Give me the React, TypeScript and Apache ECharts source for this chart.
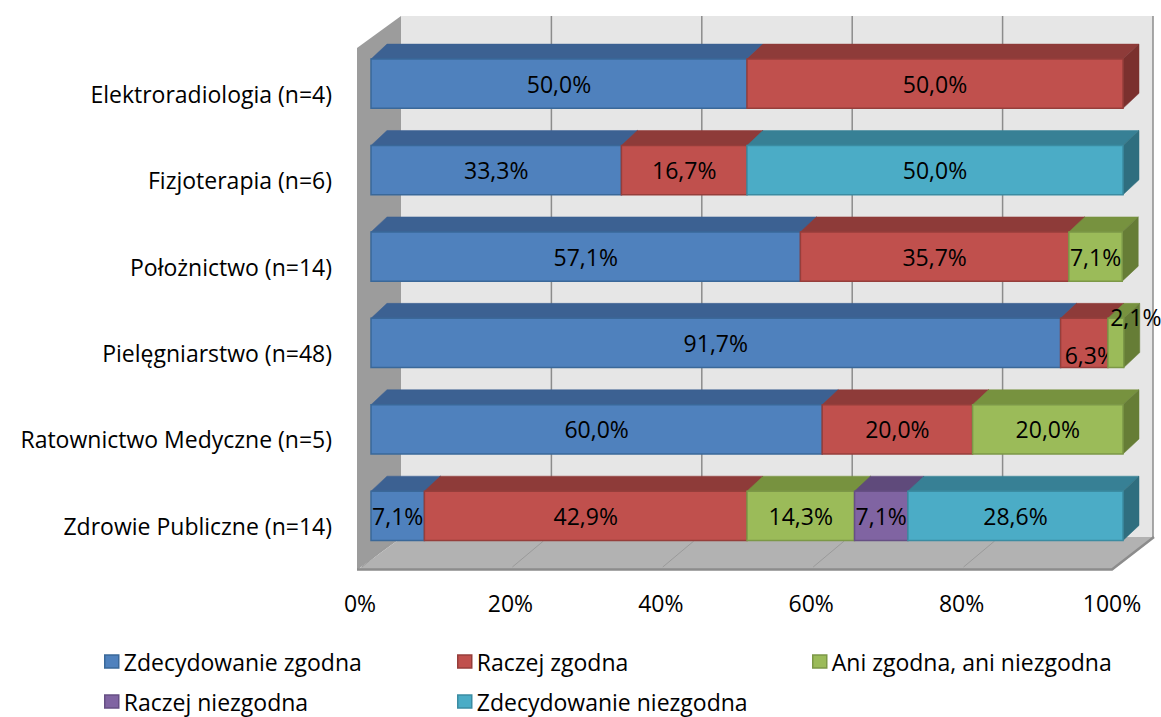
import React, { useEffect, useRef } from "react";
import * as echarts from "echarts";

const CATEGORIES = [
  "Elektroradiologia (n=4)",
  "Fizjoterapia (n=6)",
  "Położnictwo (n=14)",
  "Pielęgniarstwo (n=48)",
  "Ratownictwo Medyczne (n=5)",
  "Zdrowie Publiczne (n=14)",
];

const SERIES_NAMES = [
  "Zdecydowanie zgodna",
  "Raczej zgodna",
  "Ani zgodna, ani niezgodna",
  "Raczej niezgodna",
  "Zdecydowanie niezgodna",
];

const ZDECYDOWANIE_ZGODNA = [50.0, 33.3, 57.1, 91.7, 60.0, 7.1];
const RACZEJ_ZGODNA = [50.0, 16.7, 35.7, 6.3, 20.0, 42.9];
const ANI_ZGODNA = [0, 0, 7.1, 2.1, 20.0, 14.3];
const RACZEJ_NIEZGODNA = [0, 0, 0, 0, 0, 7.1];
const ZDECYDOWANIE_NIEZGODNA = [0, 50.0, 0, 0, 0, 28.6];

const X_TICKS = [0, 20, 40, 60, 80, 100];

const SERIES_VALUES = [
  ZDECYDOWANIE_ZGODNA,
  RACZEJ_ZGODNA,
  ANI_ZGODNA,
  RACZEJ_NIEZGODNA,
  ZDECYDOWANIE_NIEZGODNA,
];

// styling
const FRONT = ["#4F81BD", "#C0504D", "#9BBB59", "#8064A2", "#4BACC6"];
const TOP = ["#3C6192", "#8E3B39", "#77923F", "#5F4A7B", "#378095"];
const SIDE = ["#365884", "#7B302E", "#667D36", "#51406A", "#2F6E7F"];
const EDGE = ["#3A6899", "#963E3B", "#7C9847", "#664F84", "#3B8CA2"];

const FONT = '"Open Sans", sans-serif';
const FS = 23;
const DX = 16;
const DY = -15;

// label nudges for very narrow segments (category index - series index)
const LABEL_NUDGE: Record<string, [number, number]> = {
  "3-1": [6, 12],
  "3-2": [20, -26],
};

const fmt = (v: number) => v.toFixed(1).replace(".", ",") + "%";

export default function App() {
  const ref = useRef<HTMLDivElement>(null);

  useEffect(() => {
    if (!ref.current) return;
    const chart = echarts.init(ref.current, null, { renderer: "svg" });

    const barSeries = SERIES_VALUES.map((vals, si) => {
      const data = vals.map((v, ci) => {
        let start = 0;
        for (let k = 0; k < si; k++) start += SERIES_VALUES[k][ci];
        return [v, ci, start];
      });
      return {
        type: "custom",
        name: SERIES_NAMES[si],
        coordinateSystem: "cartesian2d",
        itemStyle: { color: FRONT[si] },
        encode: { x: 0, y: 1 },
        z: 3 + si,
        data,
        renderItem: (params: any, api: any) => {
          const val = api.value(0);
          if (!val) return null;
          const ci = api.value(1);
          const start = api.value(2);
          const a = api.coord([start, ci]);
          const b = api.coord([start + val, ci]);
          const band = api.size([0, 1])[1];
          const h = band * 0.57;
          const top = a[1] - h / 2;
          const bot = top + h;
          const x0 = a[0];
          const x1 = b[0];
          const nudge = LABEL_NUDGE[ci + "-" + si] || [0, 0];
          return {
            type: "group",
            children: [
              {
                type: "polygon",
                shape: {
                  points: [
                    [x0, top],
                    [x1, top],
                    [x1 + DX, top + DY],
                    [x0 + DX, top + DY],
                  ],
                },
                style: { fill: TOP[si], stroke: TOP[si], lineWidth: 0.5 },
              },
              {
                type: "polygon",
                shape: {
                  points: [
                    [x1, top],
                    [x1 + DX, top + DY],
                    [x1 + DX, bot + DY],
                    [x1, bot],
                  ],
                },
                style: { fill: SIDE[si], stroke: SIDE[si], lineWidth: 0.5 },
              },
              {
                type: "rect",
                shape: { x: x0, y: top, width: x1 - x0, height: h },
                style: { fill: FRONT[si], stroke: EDGE[si], lineWidth: 1.5 },
              },
              {
                type: "text",
                z2: 10,
                style: {
                  text: fmt(val),
                  x: (x0 + x1) / 2 + nudge[0],
                  y: (top + bot) / 2 + nudge[1],
                  align: "center",
                  verticalAlign: "middle",
                  fill: "#000",
                  fontSize: FS,
                  fontFamily: FONT,
                },
              },
            ],
          };
        },
      };
    });

    const wallSeries = {
      type: "custom",
      name: "walls",
      coordinateSystem: "cartesian2d",
      silent: true,
      z: 1,
      encode: { x: 0, y: 1 },
      data: [[0, 0, 0]],
      renderItem: (params: any, api: any) => {
        const cs = params.coordSys;
        const gx = cs.x;
        const gy = cs.y;
        const gw = cs.width;
        const gb = cs.y + cs.height;
        const wallTop = gy - 24.5;
        const wallBot = gb - 21;
        const children: any[] = [
          {
            type: "rect",
            shape: { x: gx + 30, y: wallTop, width: gw, height: wallBot - wallTop },
            style: { fill: "#E6E6E6" },
          },
          {
            type: "polygon",
            shape: {
              points: [
                [gx - 14, gy + 7.5],
                [gx + 30, wallTop],
                [gx + 30, wallBot],
                [gx - 14, gb + 11],
              ],
            },
            style: { fill: "#9C9C9C" },
          },
          {
            type: "polygon",
            shape: {
              points: [
                [gx - 14, gb + 11],
                [gx + 30, wallBot],
                [gx + gw + 31, wallBot - 1],
                [gx + gw - 11, gb + 10],
              ],
            },
            style: { fill: "#B2B2B2" },
          },
        ];
        X_TICKS.forEach((v) => {
          const xf = api.coord([v, 0])[0];
          if (v > 0) {
            children.push({
              type: "line",
              shape: { x1: xf + 30, y1: wallTop, x2: xf + 30, y2: wallBot },
              style: { stroke: "#8C8C8C", lineWidth: 1.5 },
            });
          }
          if (v < 100) {
            children.push({
              type: "line",
              shape: { x1: xf + 22, y1: gb - 18, x2: xf - 9, y2: gb + 8 },
              style: { stroke: "#9A9A9A", lineWidth: 1 },
            });
          }
        });
        children.push({
          type: "polyline",
          shape: {
            points: [
              [gx - 14, gb + 10.5],
              [gx + gw - 11, gb + 10.5],
              [gx + gw + 31, wallBot - 1],
            ],
          },
          style: { stroke: "#8C8C8C", lineWidth: 2.5, fill: null },
        });
        return { type: "group", children };
      },
    };

    const legendPos = [
      [104, 649],
      [457, 649],
      [812, 649],
      [104, 689],
      [457, 689],
    ];

    const legends = SERIES_NAMES.map((name, i) => ({
      left: legendPos[i][0],
      top: legendPos[i][1],
      padding: 0,
      itemGap: 0,
      itemWidth: 14,
      itemHeight: 13,
      selectedMode: false,
      icon: "rect",
      data: [
        {
          name,
          itemStyle: { color: FRONT[i], borderColor: EDGE[i], borderWidth: 1.5 },
        },
      ],
      textStyle: { fontSize: FS, fontFamily: FONT, color: "#000", lineHeight: 25 },
    }));

    chart.setOption({
      animation: false,
      backgroundColor: "#fff",
      grid: { left: 371, right: 38, top: 40.5, bottom: 158, containLabel: false },
      xAxis: {
        type: "value",
        min: 0,
        max: 100,
        interval: 20,
        axisLine: { show: false },
        axisTick: { show: false },
        splitLine: { show: false },
        axisLabel: {
          formatter: (v: number) => v + "%",
          fontSize: FS,
          fontFamily: FONT,
          color: "#000",
          margin: 32,
          padding: [0, 22, 0, 0],
        },
      },
      yAxis: {
        type: "category",
        data: CATEGORIES,
        inverse: true,
        axisLine: { show: false },
        axisTick: { show: false },
        splitLine: { show: false },
        axisLabel: {
          fontSize: FS,
          fontFamily: FONT,
          color: "#000",
          margin: 39,
          verticalAlign: "top",
          lineHeight: 20,
        },
      },
      legend: legends,
      series: [wallSeries, ...barSeries],
    });

    return () => chart.dispose();
  }, []);

  return (
    <div
      ref={ref}
      style={{ position: "fixed", left: 0, top: 0, width: 1161, height: 717 }}
    />
  );
}
